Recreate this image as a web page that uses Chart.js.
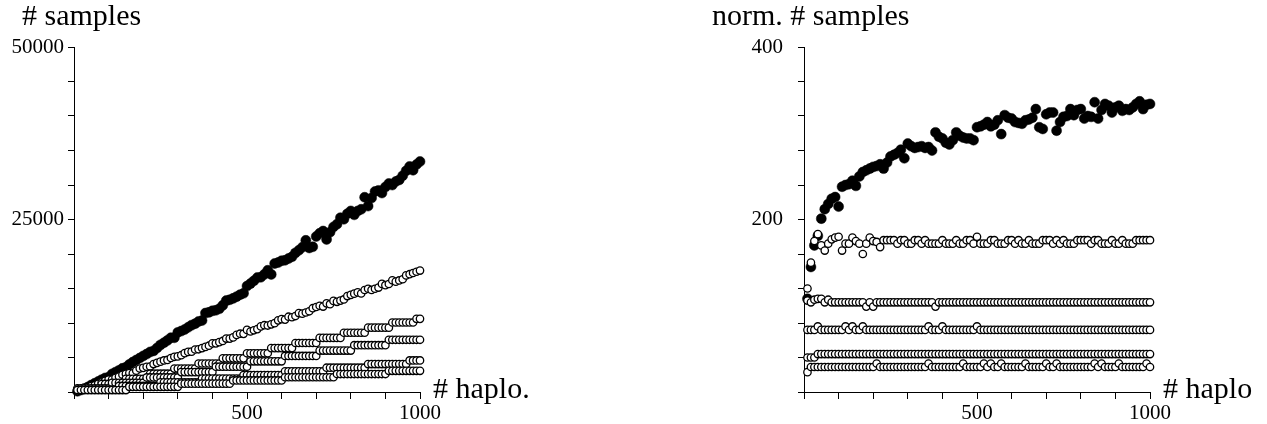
<!DOCTYPE html>
<html>
<head>
<meta charset="utf-8">
<script src="https://cdn.jsdelivr.net/npm/chart.js@4.4.1/dist/chart.umd.min.js"></script>
<style>
  body { margin: 0; background: #fff; }
  #wrap { position: relative; width: 1267px; height: 424px; }
  #leftBox { position: absolute; left: 0; top: 0; width: 633px; height: 424px; }
  #rightBox { position: absolute; left: 633px; top: 0; width: 634px; height: 424px; }
</style>
</head>
<body>
<div id="wrap">
  <div id="leftBox"><canvas id="chartSamples" width="633" height="424"></canvas></div>
  <div id="rightBox"><canvas id="chartNorm" width="634" height="424"></canvas></div>
</div>
<script>
// number of haplotypes (x values, both panels)
const haplo = [
  10, 20, 30, 40, 50, 60, 70, 80, 90, 100,
  110, 120, 130, 140, 150, 160, 170, 180, 190, 200,
  210, 220, 230, 240, 250, 260, 270, 280, 290, 300,
  310, 320, 330, 340, 350, 360, 370, 380, 390, 400,
  410, 420, 430, 440, 450, 460, 470, 480, 490, 500,
  510, 520, 530, 540, 550, 560, 570, 580, 590, 600,
  610, 620, 630, 640, 650, 660, 670, 680, 690, 700,
  710, 720, 730, 740, 750, 760, 770, 780, 790, 800,
  810, 820, 830, 840, 850, 860, 870, 880, 890, 900,
  910, 920, 930, 940, 950, 960, 970, 980, 990, 1000
];

// left panel: # samples
const samplesFilled = [
  108, 290, 510, 724, 1005, 1272, 1526, 1792, 2034, 2150,
  2618, 2880, 3133, 3430, 3585, 4000, 4335, 4626, 4921, 5220,
  5502, 5808, 5957, 6384, 6825, 7150, 7479, 7868, 7859, 8640,
  8835, 9056, 9372, 9690, 9905, 10224, 10360, 11438, 11544, 11760,
  11849, 12054, 12556, 13244, 13365, 13570, 13818, 14112, 14308, 15350,
  15708, 16120, 16589, 16632, 17050, 17640, 17043, 18618, 18762, 19020,
  19093, 19344, 19593, 20160, 20540, 20988, 21976, 20876, 21045, 22540,
  23004, 23328, 22119, 23162, 23925, 24320, 25256, 25038, 25833, 26240,
  25677, 26240, 26477, 28224, 26945, 28122, 29058, 29216, 28836, 29700,
  30212, 29992, 30504, 30738, 31350, 32064, 32689, 32144, 32967, 33400
];
const samplesOpen1 = [
  120, 300, 525, 732, 850, 984, 1204, 1416, 1611, 1800,
  1804, 2064, 2236, 2506, 2625, 2752, 2720, 3096, 3401, 3500,
  3654, 3696, 4048, 4224, 4400, 4576, 4644, 4928, 5104, 5160,
  5332, 5632, 5808, 5848, 6160, 6192, 6364, 6536, 6708, 7040,
  7052, 7224, 7396, 7744, 7740, 7912, 8272, 8448, 8428, 9000,
  8772, 8944, 9116, 9504, 9680, 9632, 9804, 9976, 10384, 10560,
  10492, 10912, 10836, 11008, 11440, 11352, 11524, 11696, 12144, 12320,
  12496, 12384, 12848, 12728, 13200, 13072, 13244, 13416, 13904, 14080,
  14256, 14432, 14276, 14784, 14960, 14792, 14964, 15136, 15664, 15480,
  15652, 16192, 15996, 16168, 16340, 16896, 17072, 17248, 17424, 17600
];
const samplesOpen2 = [
  424, 424, 424, 424, 424, 424, 424, 1166, 1166, 1166,
  1166, 1166, 1166, 1166, 1908, 1908, 1908, 1908, 1908, 1908,
  1908, 2650, 2650, 2650, 2650, 2650, 2650, 2650, 3392, 3392,
  3392, 3392, 3392, 3392, 3392, 4134, 4134, 4134, 4134, 4134,
  4134, 4134, 4876, 4876, 4876, 4876, 4876, 4876, 4876, 5618,
  5618, 5618, 5618, 5618, 5618, 5618, 6360, 6360, 6360, 6360,
  6360, 6360, 6360, 7102, 7102, 7102, 7102, 7102, 7102, 7102,
  7844, 7844, 7844, 7844, 7844, 7844, 7844, 8586, 8586, 8586,
  8586, 8586, 8586, 8586, 9328, 9328, 9328, 9328, 9328, 9328,
  9328, 10070, 10070, 10070, 10070, 10070, 10070, 10070, 10600, 10600
];
const samplesOpen3 = [
  546, 546, 546, 546, 546, 546, 546, 546, 546, 546,
  1326, 1326, 1326, 1326, 1326, 1326, 1326, 1326, 1326, 1326,
  2106, 2106, 2106, 2106, 2106, 2106, 2106, 2106, 2106, 2106,
  2886, 2886, 2886, 2886, 2886, 2886, 2886, 2886, 2886, 2886,
  3666, 3666, 3666, 3666, 3666, 3666, 3666, 3666, 3666, 3666,
  4446, 4446, 4446, 4446, 4446, 4446, 4446, 4446, 4446, 4446,
  5226, 5226, 5226, 5226, 5226, 5226, 5226, 5226, 5226, 5226,
  6006, 6006, 6006, 6006, 6006, 6006, 6006, 6006, 6006, 6006,
  6786, 6786, 6786, 6786, 6786, 6786, 6786, 6786, 6786, 6786,
  7566, 7566, 7566, 7566, 7566, 7566, 7566, 7566, 7566, 7566
];
const samplesOpen4 = [
  352, 352, 352, 352, 352, 352, 352, 352, 352, 352,
  352, 352, 880, 880, 880, 880, 880, 880, 880, 880,
  880, 880, 880, 880, 1408, 1408, 1408, 1408, 1408, 1408,
  1408, 1408, 1408, 1408, 1408, 1408, 1936, 1936, 1936, 1936,
  1936, 1936, 1936, 1936, 1936, 1936, 1936, 1936, 2464, 2464,
  2464, 2464, 2464, 2464, 2464, 2464, 2464, 2464, 2464, 2464,
  2992, 2992, 2992, 2992, 2992, 2992, 2992, 2992, 2992, 2992,
  2992, 2992, 3520, 3520, 3520, 3520, 3520, 3520, 3520, 3520,
  3520, 3520, 3520, 3520, 4048, 4048, 4048, 4048, 4048, 4048,
  4048, 4048, 4048, 4048, 4048, 4048, 4576, 4576, 4576, 4576
];
const samplesOpen5 = [
  279, 279, 279, 279, 279, 279, 279, 279, 279, 279,
  279, 279, 279, 279, 279, 744, 744, 744, 744, 744,
  744, 744, 744, 744, 744, 744, 744, 744, 744, 744,
  1209, 1209, 1209, 1209, 1209, 1209, 1209, 1209, 1209, 1209,
  1209, 1209, 1209, 1209, 1209, 1674, 1674, 1674, 1674, 1674,
  1674, 1674, 1674, 1674, 1674, 1674, 1674, 1674, 1674, 1674,
  2139, 2139, 2139, 2139, 2139, 2139, 2139, 2139, 2139, 2139,
  2139, 2139, 2139, 2139, 2139, 2604, 2604, 2604, 2604, 2604,
  2604, 2604, 2604, 2604, 2604, 2604, 2604, 2604, 2604, 2604,
  3069, 3069, 3069, 3069, 3069, 3069, 3069, 3069, 3069, 3069
];

// right panel: norm. # samples
const normFilled = [
  108, 145, 170, 181, 201, 212, 218, 224, 226, 215,
  238, 240, 241, 245, 239, 250, 255, 257, 259, 261,
  262, 264, 259, 266, 273, 275, 277, 281, 271, 288,
  285, 283, 284, 285, 283, 284, 280, 301, 296, 294,
  289, 287, 292, 301, 297, 295, 294, 294, 292, 307,
  308, 310, 313, 308, 310, 315, 299, 321, 318, 317,
  313, 312, 311, 315, 316, 318, 328, 307, 305, 322,
  324, 324, 303, 313, 319, 320, 328, 321, 327, 328,
  317, 320, 319, 336, 317, 327, 334, 332, 324, 330,
  332, 326, 328, 327, 330, 334, 337, 328, 333, 334
];
const normOpen1 = [
  120, 150, 175, 183, 170, 164, 172, 177, 179, 180,
  164, 172, 172, 179, 175, 172, 160, 172, 179, 175,
  174, 168, 176, 176, 176, 176, 172, 176, 176, 172,
  172, 176, 176, 172, 176, 172, 172, 172, 172, 176,
  172, 172, 172, 176, 172, 172, 176, 176, 172, 180,
  172, 172, 172, 176, 176, 172, 172, 172, 176, 176,
  172, 176, 172, 172, 176, 172, 172, 172, 176, 176,
  176, 172, 176, 172, 176, 172, 172, 172, 176, 176,
  176, 176, 172, 176, 176, 172, 172, 172, 176, 172,
  172, 176, 172, 172, 172, 176, 176, 176, 176, 176
];
const normOpen2 = [
  106, 104, 107, 108, 108, 104, 107, 104, 104, 104,
  104, 104, 104, 104, 104, 104, 104, 99, 104, 99,
  104, 104, 104, 104, 104, 104, 104, 104, 104, 104,
  104, 104, 104, 104, 104, 104, 104, 99, 104, 104,
  104, 104, 104, 104, 104, 104, 104, 104, 104, 104,
  104, 104, 104, 104, 104, 104, 104, 104, 104, 104,
  104, 104, 104, 104, 104, 104, 104, 104, 104, 104,
  104, 104, 104, 104, 104, 104, 104, 104, 104, 104,
  104, 104, 104, 104, 104, 104, 104, 104, 104, 104,
  104, 104, 104, 104, 104, 104, 104, 104, 104, 104
];
const normOpen3 = [
  72, 72, 72, 76, 72, 72, 72, 72, 72, 72,
  72, 76, 72, 76, 72, 72, 76, 72, 72, 72,
  72, 72, 72, 72, 72, 72, 72, 72, 72, 72,
  72, 72, 72, 72, 72, 76, 72, 72, 72, 76,
  72, 72, 72, 72, 72, 72, 72, 72, 72, 76,
  72, 72, 72, 72, 72, 72, 72, 72, 72, 72,
  72, 72, 72, 72, 72, 72, 72, 72, 72, 72,
  72, 72, 72, 72, 72, 72, 72, 72, 72, 72,
  72, 72, 72, 72, 72, 72, 72, 72, 72, 72,
  72, 72, 72, 72, 72, 72, 72, 72, 72, 72
];
const normOpen4 = [
  40, 40, 40, 44, 44, 44, 44, 44, 44, 44,
  44, 44, 44, 44, 44, 44, 44, 44, 44, 44,
  44, 44, 44, 44, 44, 44, 44, 44, 44, 44,
  44, 44, 44, 44, 44, 44, 44, 44, 44, 44,
  44, 44, 44, 44, 44, 44, 44, 44, 44, 44,
  44, 44, 44, 44, 44, 44, 44, 44, 44, 44,
  44, 44, 44, 44, 44, 44, 44, 44, 44, 44,
  44, 44, 44, 44, 44, 44, 44, 44, 44, 44,
  44, 44, 44, 44, 44, 44, 44, 44, 44, 44,
  44, 44, 44, 44, 44, 44, 44, 44, 44, 44
];
const normOpen5 = [
  23, 29, 29, 29, 29, 29, 29, 29, 29, 29,
  29, 29, 29, 29, 29, 29, 29, 29, 29, 29,
  33, 29, 29, 29, 29, 29, 29, 29, 29, 29,
  29, 29, 29, 29, 29, 33, 29, 29, 29, 29,
  29, 29, 29, 29, 29, 33, 29, 29, 29, 29,
  29, 33, 29, 33, 29, 29, 33, 29, 29, 29,
  29, 29, 29, 33, 29, 29, 29, 29, 29, 33,
  29, 29, 33, 29, 29, 29, 29, 29, 29, 29,
  29, 29, 29, 33, 29, 33, 29, 29, 29, 29,
  33, 29, 29, 29, 29, 29, 29, 29, 33, 29
];

// tick labels shown (others are unlabeled minor ticks)
const xTickLabels = [500, 1000];
const samplesTickLabels = [25000, 50000];
const normTickLabels = [200, 400];

const serif = '"Liberation Serif", "Times New Roman", serif';

function toPoints(ys) {
  return ys.map((y, i) => ({ x: haplo[i], y: y }));
}

function filledSet(ys) {
  return {
    data: toPoints(ys),
    pointRadius: 5,
    pointBackgroundColor: "#000",
    pointBorderColor: "#000",
    pointBorderWidth: 0.5,
    showLine: false,
    clip: false,
    order: 10,
  };
}

function openSet(ys, order) {
  return {
    data: toPoints(ys),
    pointRadius: 3.7,
    pointBackgroundColor: "#fff",
    pointBorderColor: "#000",
    pointBorderWidth: 1.3,
    showLine: false,
    clip: false,
    order: order,
  };
}

const axisTitles = {
  id: "axisTitles",
  afterDraw(chart, args, opts) {
    const ctx = chart.ctx;
    ctx.save();
    ctx.fillStyle = "#000";
    ctx.textBaseline = "alphabetic";
    ctx.textAlign = "left";
    ctx.font = "30px " + serif;
    ctx.fillText(opts.yTitle, opts.yTitleX, 25);
    ctx.fillText(opts.xTitle, chart.chartArea.right + opts.xTitleGap, 398);
    ctx.restore();
  },
};

function makeConfig(datasets, yMax, yStep, yLabels, yWidth, yPad, rightPad, titles) {
  return {
    type: "scatter",
    data: { datasets: datasets },
    plugins: [axisTitles],
    options: {
      responsive: false,
      animation: false,
      events: [],
      layout: { padding: { left: 0, top: 47, right: rightPad, bottom: 0 } },
      plugins: {
        legend: { display: false },
        tooltip: { enabled: false },
        axisTitles: titles,
      },
      scales: {
        x: {
          type: "linear",
          min: 0,
          max: 1000,
          border: { display: true, color: "#000", width: 1 },
          grid: { drawOnChartArea: false, drawTicks: true, tickLength: 7, color: "#000", lineWidth: 1 },
          ticks: {
            stepSize: 100,
            autoSkip: false,
            maxRotation: 0,
            padding: 2,
            color: "#000",
            font: { family: serif, size: 21 },
            callback: (v) => (xTickLabels.includes(v) ? String(v) : ""),
          },
          afterFit: (s) => { s.height = 32; },
        },
        y: {
          type: "linear",
          min: 0,
          max: yMax,
          border: { display: true, color: "#000", width: 1 },
          grid: { drawOnChartArea: false, drawTicks: true, tickLength: 6, color: "#000", lineWidth: 1 },
          ticks: {
            stepSize: yStep,
            autoSkip: false,
            padding: yPad,
            color: "#000",
            font: { family: serif, size: 21 },
            callback: (v) => (yLabels.includes(v) ? String(v) : ""),
          },
          afterFit: (s) => { s.width = yWidth; },
        },
      },
    },
  };
}

new Chart(
  document.getElementById("chartSamples"),
  makeConfig(
    [
      filledSet(samplesFilled),
      openSet(samplesOpen1, 5),
      openSet(samplesOpen2, 4),
      openSet(samplesOpen3, 3),
      openSet(samplesOpen4, 2),
      openSet(samplesOpen5, 1),
    ],
    50000, 5000, samplesTickLabels, 74, 4, 213,
    { yTitle: "# samples", yTitleX: 22, xTitle: "# haplo.", xTitleGap: 13 }
  )
);

new Chart(
  document.getElementById("chartNorm"),
  makeConfig(
    [
      filledSet(normFilled),
      openSet(normOpen1, 5),
      openSet(normOpen2, 4),
      openSet(normOpen3, 3),
      openSet(normOpen4, 2),
      openSet(normOpen5, 1),
    ],
    400, 40, normTickLabels, 171, 15, 117,
    { yTitle: "norm. # samples", yTitleX: 79, xTitle: "# haplo", xTitleGap: 13 }
  )
);
</script>
</body>
</html>
